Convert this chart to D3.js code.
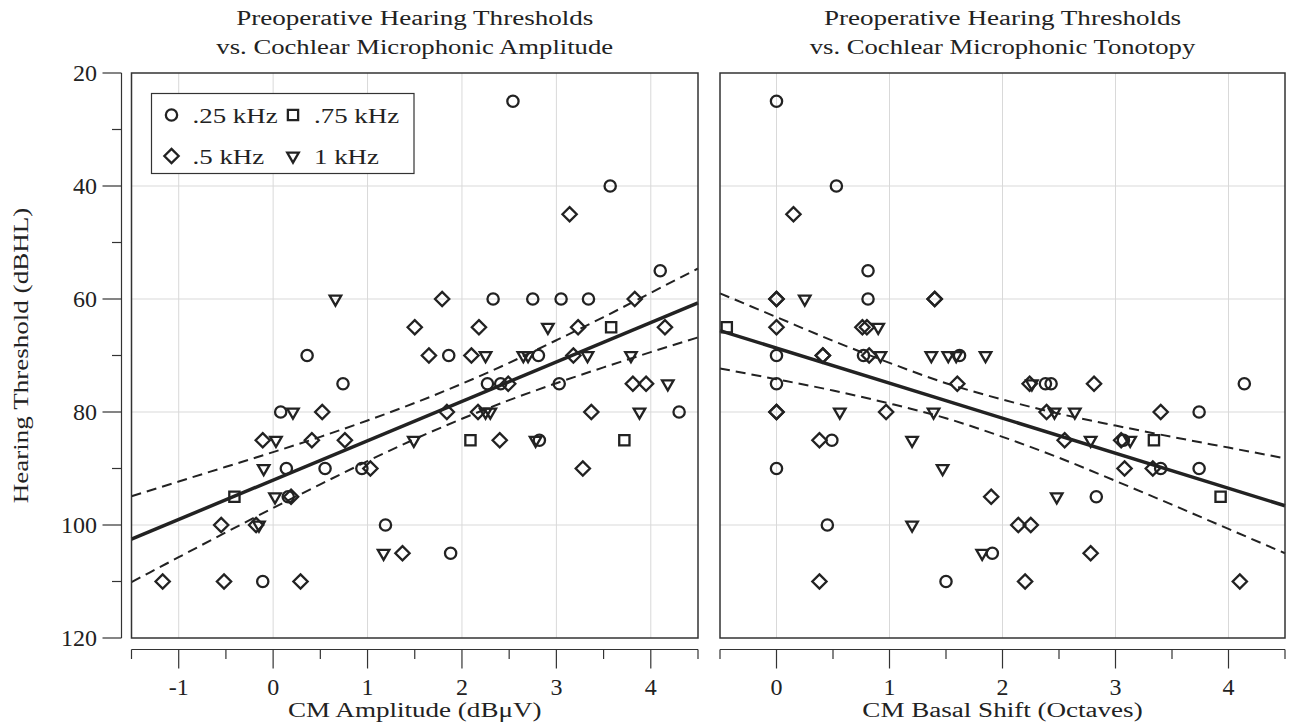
<!DOCTYPE html>
<html lang="en">
<head>
	<meta charset="UTF-8">
	<title>Preoperative Hearing Thresholds</title>
	<script src="https://d3js.org/d3.v7.min.js"></script>
	<style>
		body, html {
			margin: 0;
			padding: 0;
			background: #fff;
			overflow: hidden;
		}
		svg {
			display: block;
			font-family: "Liberation Serif", "DejaVu Serif", serif;
		}
		.grid line {
			stroke: #d9d9d9;
			stroke-width: 1;
		}
		.frame {
			fill: none;
			stroke: #333;
			stroke-width: 1.5;
		}
		.mark {
			fill: none;
			stroke: #222;
			stroke-width: 2.3;
		}
		.fit {
			fill: none;
			stroke: #222;
			stroke-width: 3.5;
		}
		.ci {
			fill: none;
			stroke: #222;
			stroke-width: 2;
			stroke-dasharray: 10 6;
		}
		.axis line, .axis path {
			stroke: #333;
			stroke-width: 1.2;
		}
		text {
			fill: #222;
		}
	</style>
</head>
<body>
<div id="chart"></div>
<script>
	// legend labels, in the order circle, square, diamond, triangle
	const freqLabels = [".25 kHz", ".75 kHz", ".5 kHz", "1 kHz"];

	// left panel: CM amplitude (dBuV) vs threshold (dBHL)
	const ampCircle = [[2.54,25],[3.57,40],[4.10,55],[2.33,60],[2.75,60],[3.05,60],[3.34,60],[0.36,70],[1.86,70],[2.81,70],[0.74,75],[2.27,75],[2.41,75],[3.03,75],[0.08,80],[4.30,80],[2.82,85],[0.14,90],[0.55,90],[0.94,90],[0.16,95],[1.19,100],[1.88,105],[-0.11,110]];
	const ampSquare = [[3.58,65],[2.09,85],[3.72,85],[-0.41,95]];
	const ampDiamond = [[3.14,45],[1.79,60],[3.83,60],[1.50,65],[2.18,65],[3.23,65],[4.15,65],[1.65,70],[2.10,70],[3.18,70],[2.49,75],[3.81,75],[3.95,75],[0.52,80],[1.84,80],[2.17,80],[3.37,80],[-0.11,85],[0.41,85],[0.76,85],[2.40,85],[1.03,90],[3.28,90],[0.19,95],[-0.55,100],[-0.18,100],[1.37,105],[-1.17,110],[-0.52,110],[0.29,110]];
	const ampTriangle = [[0.66,60],[2.91,65],[2.25,70],[2.65,70],[2.70,70],[3.33,70],[3.79,70],[4.18,75],[0.21,80],[2.25,80],[2.30,80],[3.88,80],[0.03,85],[1.49,85],[2.78,85],[-0.10,90],[0.02,95],[-0.15,100],[1.17,105]];

	// right panel: CM basal shift (octaves) vs threshold (dBHL)
	const shiftCircle = [[0,25],[0.53,40],[0.81,55],[0.81,60],[0,70],[0.77,70],[1.62,70],[0,75],[2.38,75],[2.43,75],[4.14,75],[3.74,80],[0.49,85],[3.07,85],[0,90],[3.40,90],[3.74,90],[2.83,95],[0.45,100],[1.91,105],[1.50,110]];
	const shiftSquare = [[-0.44,65],[3.34,85],[3.93,95]];
	const shiftDiamond = [[0.15,45],[0,60],[0,60],[1.40,60],[1.40,60],[0,65],[0.76,65],[0.80,65],[0.41,70],[0.41,70],[0.82,70],[1.60,75],[2.24,75],[2.81,75],[0,80],[0,80],[0.97,80],[2.39,80],[3.40,80],[0.38,85],[2.55,85],[3.05,85],[3.08,90],[3.33,90],[1.90,95],[2.14,100],[2.25,100],[2.78,105],[0.38,110],[2.20,110],[4.10,110]];
	const shiftTriangle = [[0.25,60],[0.90,65],[0.92,70],[1.37,70],[1.52,70],[1.59,70],[1.85,70],[2.26,75],[0.56,80],[1.39,80],[2.46,80],[2.64,80],[1.20,85],[2.78,85],[3.13,85],[1.47,90],[2.48,95],[1.20,100],[1.82,105]];

	// regression lines and confidence bands
	const ampFitX = [-1.5, 4.5];
	const ampFitY = [102.5, 60.7];
	const ampBandX = [-1.5,-1,-0.5,0,0.5,1,1.5,2,2.5,3,3.5,4,4.5];
	const ampBandUpper = [94.9,92.3,89.7,87.1,84.4,81.5,78.4,75.0,71.3,67.3,63.2,58.9,54.6];
	const ampBandLower = [110.1,105.7,101.3,97.0,92.8,88.7,84.8,81.2,77.9,74.9,72.1,69.4,66.8];

	const shiftFitX = [-0.5, 4.5];
	const shiftFitY = [65.6, 96.6];
	const shiftBandX = [-0.5,0,0.5,1,1.5,2,2.5,3,3.5,4,4.5];
	const shiftBandUpper = [59.0,63.2,67.4,71.3,74.9,77.8,80.3,82.4,84.4,86.3,88.2];
	const shiftBandLower = [72.3,74.2,76.2,78.5,81.1,84.4,88.1,92.2,96.4,100.7,105.0];

	const yTicks = [20, 30, 40, 50, 60, 70, 80, 90, 100, 110, 120];
	const yGrid = [40, 60, 80, 100];

	const width = 1289;
	const height = 724;
	const plotTop = 73, plotBottom = 638;
	const xAxisY = 649.5;

	const svg = d3.select("#chart")
		.append("svg")
		.attr("width", width)
		.attr("height", height);

	const y = d3.scaleLinear().domain([20, 120]).range([plotTop, plotBottom]);

	// the original typeface is much wider than Liberation Serif, so widen text a bit
	function widen(sel, k) {
		sel.each(function() {
			const len = this.getComputedTextLength();
			d3.select(this)
				.attr("textLength", len * k)
				.attr("lengthAdjust", "spacingAndGlyphs");
		});
		return sel;
	}

	// marker shapes
	const shapes = {
		circle: d3.symbol().type(d3.symbolCircle).size(100),
		square: d3.symbol().type(d3.symbolSquare).size(105),
		diamond: d3.symbol().type(d3.symbolDiamond2).size(130),
		triangle: d3.symbol().type(d3.symbolTriangle2).size(95)
	};
	const rot = k => k === "triangle" ? " rotate(180)" : "";

	function drawPanel(opts) {
		const x = d3.scaleLinear().domain(opts.domain).range([opts.left, opts.right]);
		const g = svg.append("g");

		// grid
		const grid = g.append("g").attr("class", "grid");
		grid.selectAll(".gx")
			.data(opts.majors)
			.enter()
			.append("line")
			.attr("x1", d => x(d)).attr("x2", d => x(d))
			.attr("y1", plotTop).attr("y2", plotBottom);
		grid.selectAll(".gy")
			.data(yGrid)
			.enter()
			.append("line")
			.attr("x1", opts.left).attr("x2", opts.right)
			.attr("y1", d => y(d)).attr("y2", d => y(d));

		// confidence band + fit
		const band = d3.line()
			.x((d, i) => x(opts.bandX[i]))
			.y(d => y(d))
			.curve(d3.curveMonotoneX);
		g.append("path").attr("class", "ci").attr("d", band(opts.upper));
		g.append("path").attr("class", "ci").attr("d", band(opts.lower));
		g.append("path")
			.attr("class", "fit")
			.attr("d", d3.line().x((d, i) => x(opts.fitX[i])).y(d => y(d))(opts.fitY));

		// scatter
		opts.series.forEach(s => {
			g.selectAll(null)
				.data(s.data)
				.enter()
				.append("path")
				.attr("class", "mark")
				.attr("d", shapes[s.kind])
				.attr("transform", d => `translate(${x(d[0])},${y(d[1])})` + rot(s.kind));
		});

		g.append("rect")
			.attr("class", "frame")
			.attr("x", opts.left).attr("y", plotTop)
			.attr("width", opts.right - opts.left)
			.attr("height", plotBottom - plotTop);

		// detached bottom axis
		const ticks = d3.range(opts.domain[0], opts.domain[1] + 0.01, 0.5);
		const ax = g.append("g").attr("class", "axis");
		ax.append("line")
			.attr("x1", opts.left).attr("x2", opts.right)
			.attr("y1", xAxisY).attr("y2", xAxisY);
		ax.selectAll(".t")
			.data(ticks)
			.enter()
			.append("line")
			.attr("x1", d => x(d)).attr("x2", d => x(d))
			.attr("y1", xAxisY)
			.attr("y2", d => xAxisY + (Number.isInteger(d) ? 19 : 9.5));
		ax.selectAll(".lab")
			.data(opts.majors)
			.enter()
			.append("text")
			.attr("x", d => x(d))
			.attr("y", 695)
			.attr("text-anchor", "middle")
			.style("font-size", "24px")
			.text(d => d < 0 ? "-" + Math.abs(d) : d);

		const cx = (opts.left + opts.right) / 2;
		widen(g.append("text")
			.attr("x", cx).attr("y", 717)
			.attr("text-anchor", "middle")
			.style("font-size", "20.5px")
			.text(opts.xTitle), 1.32);

		widen(g.append("text")
			.attr("x", cx).attr("y", 25)
			.attr("text-anchor", "middle")
			.style("font-size", "20.5px")
			.text("Preoperative Hearing Thresholds"), 1.32);
		widen(g.append("text")
			.attr("x", cx).attr("y", 54)
			.attr("text-anchor", "middle")
			.style("font-size", "20.5px")
			.text(opts.title2), 1.3);
	}

	drawPanel({
		domain: [-1.5, 4.5], left: 131.5, right: 698,
		majors: [-1, 0, 1, 2, 3, 4],
		fitX: ampFitX, fitY: ampFitY,
		bandX: ampBandX, upper: ampBandUpper, lower: ampBandLower,
		series: [
			{ kind: "circle", data: ampCircle },
			{ kind: "square", data: ampSquare },
			{ kind: "diamond", data: ampDiamond },
			{ kind: "triangle", data: ampTriangle }
		],
		xTitle: "CM Amplitude (dBμV)",
		title2: "vs. Cochlear Microphonic Amplitude"
	});

	drawPanel({
		domain: [-0.5, 4.5], left: 720, right: 1285,
		majors: [0, 1, 2, 3, 4],
		fitX: shiftFitX, fitY: shiftFitY,
		bandX: shiftBandX, upper: shiftBandUpper, lower: shiftBandLower,
		series: [
			{ kind: "circle", data: shiftCircle },
			{ kind: "square", data: shiftSquare },
			{ kind: "diamond", data: shiftDiamond },
			{ kind: "triangle", data: shiftTriangle }
		],
		xTitle: "CM Basal Shift (Octaves)",
		title2: "vs. Cochlear Microphonic Tonotopy"
	});

	// detached y axis on the left
	const yAx = svg.append("g").attr("class", "axis");
	const yAxisX = 121.5;
	yAx.append("line")
		.attr("x1", yAxisX).attr("x2", yAxisX)
		.attr("y1", plotTop).attr("y2", plotBottom);
	yAx.selectAll(".t")
		.data(yTicks)
		.enter()
		.append("line")
		.attr("y1", d => y(d)).attr("y2", d => y(d))
		.attr("x1", yAxisX)
		.attr("x2", d => yAxisX - (d % 20 === 0 ? 19 : 9.5));
	yAx.selectAll(".lab")
		.data(yTicks.filter(d => d % 20 === 0))
		.enter()
		.append("text")
		.attr("x", 97)
		.attr("y", d => y(d))
		.attr("dy", "0.35em")
		.attr("text-anchor", "end")
		.style("font-size", "24px")
		.text(d => d);
	widen(svg.append("text")
		.attr("transform", `translate(28,${(plotTop + plotBottom) / 2}) rotate(-90)`)
		.attr("text-anchor", "middle")
		.style("font-size", "20.5px")
		.text("Hearing Threshold (dBHL)"), 1.32);

	// legend
	const leg = svg.append("g");
	leg.append("rect")
		.attr("x", 151.5).attr("y", 93.5)
		.attr("width", 262.5).attr("height", 80)
		.attr("fill", "#fff")
		.attr("stroke", "#333")
		.attr("stroke-width", 1.2);
	const legItems = [
		{ kind: "circle", label: freqLabels[0], x: 171.5, y: 115 },
		{ kind: "square", label: freqLabels[1], x: 293, y: 115 },
		{ kind: "diamond", label: freqLabels[2], x: 171.5, y: 156 },
		{ kind: "triangle", label: freqLabels[3], x: 293, y: 156 }
	];
	legItems.forEach(it => {
		leg.append("path")
			.attr("class", "mark")
			.attr("d", shapes[it.kind])
			.attr("transform", `translate(${it.x},${it.y})` + rot(it.kind));
		widen(leg.append("text")
			.attr("x", it.x + 21)
			.attr("y", it.y)
			.attr("dy", "0.35em")
			.style("font-size", "21.5px")
			.text(it.label), 1.25);
	});
</script>
</body>
</html>
